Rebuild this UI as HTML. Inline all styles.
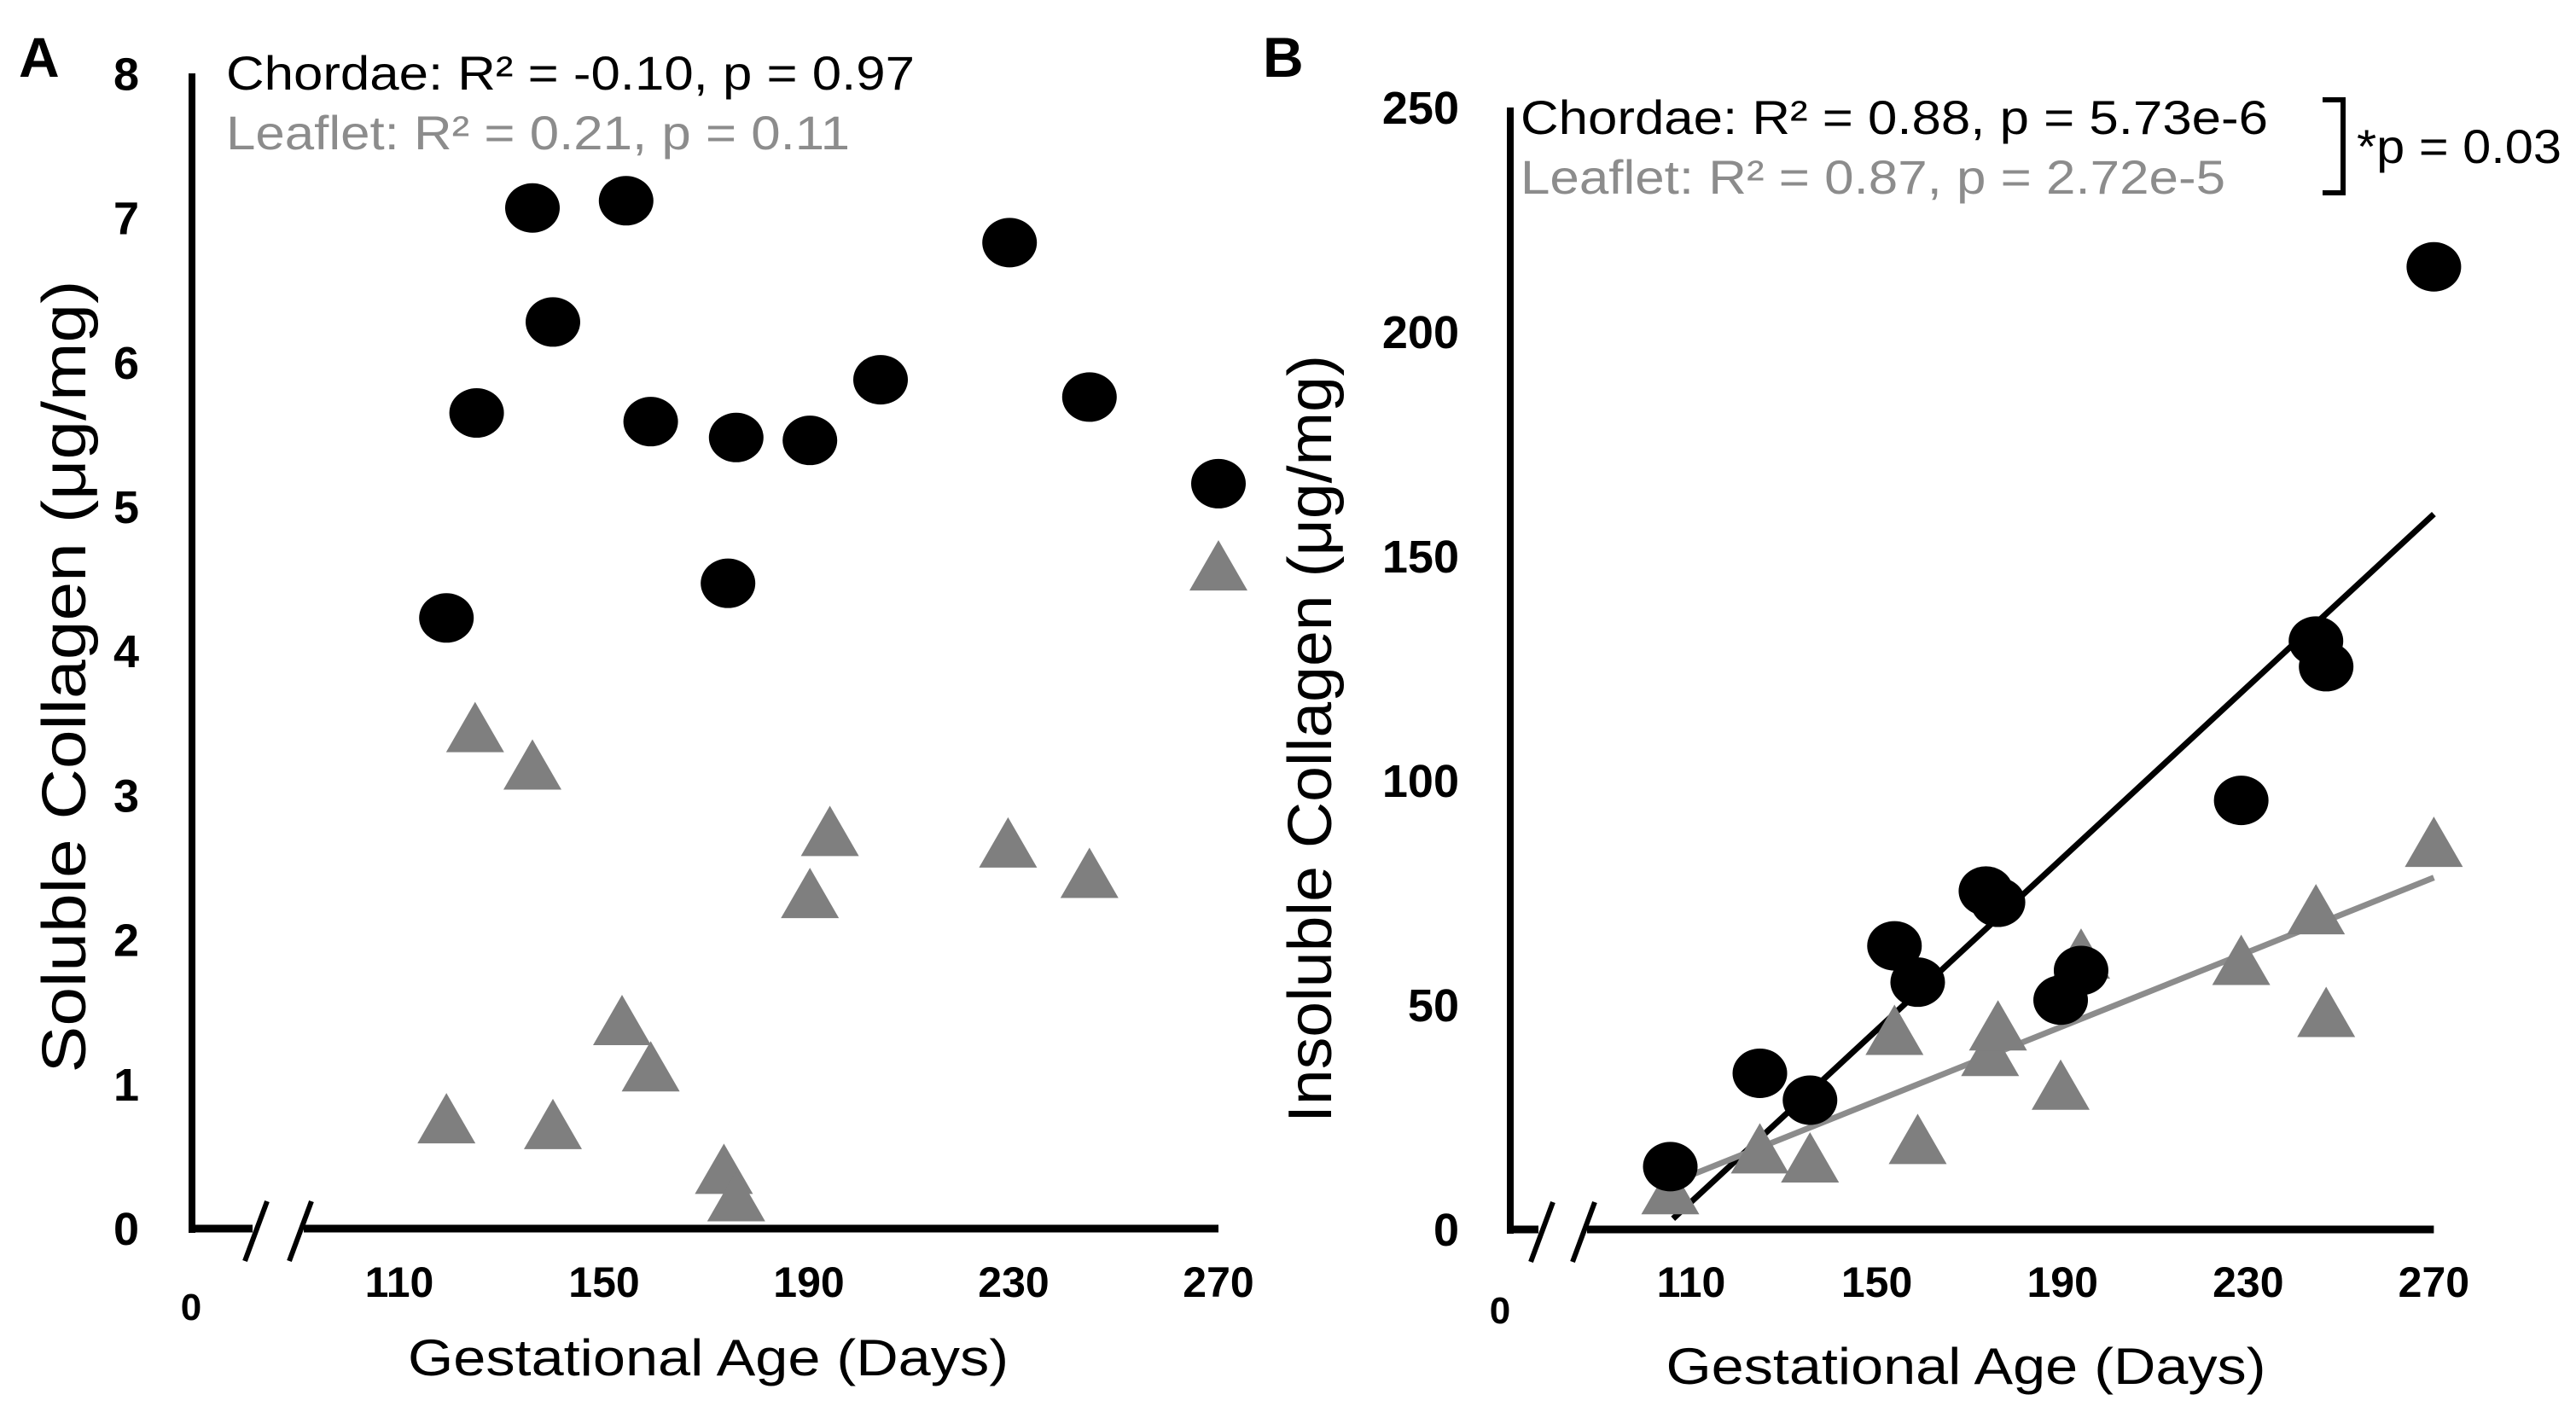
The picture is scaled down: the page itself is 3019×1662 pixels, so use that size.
<!DOCTYPE html>
<html><head><meta charset="utf-8"><style>
html,body{margin:0;padding:0;background:#fff}
svg{display:block}
text{font-family:"Liberation Sans",sans-serif}
</style></head><body>
<svg id="chart" width="3019" height="1662" viewBox="0 0 3019 1662" xmlns="http://www.w3.org/2000/svg">
<g id="panelA"></g>
<g id="panelB"></g>
</svg>
<script>
// Panel A data (soluble collagen)
const aChordaeDays = [119.2,125.1,136,140,154.3,159.1,175.8,174.2,190.2,204,229.2,244.8,270];
const aChordaeVals = [4.23,5.65,7.07,6.28,7.12,5.59,5.48,4.47,5.46,5.88,6.83,5.76,5.16];
const aLeafletDays = [119.2,124.8,136,140,153.5,159.1,173.4,175.8,190.2,194.1,228.9,244.8,270];
const aLeafletVals = [0.75,3.46,3.2,0.71,1.43,1.11,0.40,0.21,2.31,2.74,2.66,2.45,4.58];
const aYTicks = [0,1,2,3,4,5,6,7,8];
const xTicks = [110,150,190,230,270];
// Panel B data (insoluble collagen)
const bChordaeDays = [105.5,124.8,135.6,153.8,158.8,173.5,176.1,189.6,194,228.5,244.6,246.8,270];
const bChordaeVals = [14.0,34.8,28.8,63.2,55.1,75.4,72.9,51.1,57.7,95.6,131.1,125.4,214.5];
const bLeafletDays = [105.5,124.8,135.6,153.8,158.8,174.4,176.1,189.6,194,228.5,244.6,246.8,270];
const bLeafletVals = [8.5,17.6,15.6,44,19.7,39.3,45,31.8,61,59.6,70.9,48,85.9];
const bYTicks = [0,50,100,150,200,250];
const bChordaeFit = [[106.1,2.4],[270,159.4]];
const bLeafletFit = [[106.1,10.5],[270,78.4]];

const NS="http://www.w3.org/2000/svg";
function mk(parent,tag,attrs,txt){const e=document.createElementNS(NS,tag);for(const k in attrs)e.setAttribute(k,attrs[k]);if(txt!==undefined)e.textContent=txt;parent.appendChild(e);return e;}

function drawPanel(g,cfg){
  const sx=d=>cfg.x0+(d-110)*cfg.xs;
  const sy=v=>cfg.yZero-v*cfg.ys;
  let e=mk(g,'line',{x1:cfg.axX,y1:cfg.yTop,x2:cfg.axX,y2:cfg.yZero+5,stroke:'#000','stroke-width':8});
  
  e=mk(g,'line',{x1:cfg.axX-4,y1:cfg.yZero,x2:cfg.br1-4,y2:cfg.yZero,stroke:'#000','stroke-width':9});
  
  e=mk(g,'line',{x1:cfg.br2+4,y1:cfg.yZero,x2:sx(270),y2:cfg.yZero,stroke:'#000','stroke-width':9});
  
  [cfg.br1,cfg.br2].forEach(bx=>{
    e=mk(g,'line',{x1:bx-13,y1:cfg.yZero+38,x2:bx+13,y2:cfg.yZero-32,stroke:'#000','stroke-width':6});
    
  });
  cfg.yTicks.forEach(t=>{
    e=mk(g,'text',{x:cfg.yLabX,y:sy(t)+19,'text-anchor':'end','font-size':54,'font-weight':'bold'},String(t));
    
  });
  xTicks.forEach(t=>{
    e=mk(g,'text',{x:sx(t),y:cfg.xLabY,'text-anchor':'middle','font-size':50,'font-weight':'bold'},String(t));
    
  });
  e=mk(g,'text',{x:cfg.zeroX,y:cfg.zeroY,'text-anchor':'middle','font-size':44,'font-weight':'bold'},'0');
  
  if(cfg.fits){cfg.fits.forEach(f=>{
    e=mk(g,'line',{x1:sx(f.pts[0][0]),y1:sy(f.pts[0][1]),x2:sx(f.pts[1][0]),y2:sy(f.pts[1][1]),stroke:f.color,'stroke-width':7});
    
  });}
  cfg.lDays.forEach((d,i)=>{
    const cx=sx(d),cy=sy(cfg.lVals[i]);
    e=mk(g,'polygon',{points:`${cx-34},${cy+27} ${cx+34},${cy+27} ${cx},${cy-32}`,fill:'#7f7f7f'});
    
  });
  cfg.cDays.forEach((d,i)=>{
    e=mk(g,'ellipse',{cx:sx(d),cy:sy(cfg.cVals[i]),rx:32,ry:29,fill:'#000'});
    
  });
}

const gA=document.getElementById('panelA');
drawPanel(gA,{x0:468,xs:6.0,yZero:1440,ys:169.2,yTop:86,axX:225,br1:300,br2:352,yLabX:163,xLabY:1520,zeroX:224,zeroY:1547,
  yTicks:aYTicks,cDays:aChordaeDays,cVals:aChordaeVals,lDays:aLeafletDays,lVals:aLeafletVals});
const gB=document.getElementById('panelB');
drawPanel(gB,{x0:1982,xs:5.44,yZero:1441,ys:5.26,yTop:126,axX:1770,br1:1807,br2:1856,yLabX:1710,xLabY:1520,zeroX:1758,zeroY:1551,
  yTicks:bYTicks,cDays:bChordaeDays,cVals:bChordaeVals,lDays:bLeafletDays,lVals:bLeafletVals,
  fits:[{pts:bChordaeFit,color:'#000',name:'chordae-fit-line'},{pts:bLeafletFit,color:'#8c8c8c',name:'leaflet-fit-line'}]});
</script>
<svg style="position:absolute;left:0;top:0" width="3019" height="1662" viewBox="0 0 3019 1662" xmlns="http://www.w3.org/2000/svg">
<text x="22" y="90" font-size="66" font-weight="bold">A</text>
<text x="1480" y="90" font-size="66" font-weight="bold">B</text>
<text x="265" y="105" font-size="56" textLength="807" lengthAdjust="spacingAndGlyphs" fill="#000">Chordae: R² = -0.10, p = 0.97</text>
<text x="265" y="175" font-size="56" textLength="731" lengthAdjust="spacingAndGlyphs" fill="#8c8c8c">Leaflet: R² = 0.21, p = 0.11</text>
<text x="830" y="1612" font-size="60" text-anchor="middle" textLength="704" lengthAdjust="spacingAndGlyphs">Gestational Age (Days)</text>
<text transform="translate(100,793) rotate(-90)" font-size="72" text-anchor="middle" textLength="929" lengthAdjust="spacingAndGlyphs">Soluble Collagen (μg/mg)</text>
<text x="1782" y="157" font-size="56" textLength="876" lengthAdjust="spacingAndGlyphs" fill="#000">Chordae: R² = 0.88, p = 5.73e-6</text>
<text x="1782" y="227" font-size="56" textLength="826" lengthAdjust="spacingAndGlyphs" fill="#8c8c8c">Leaflet: R² = 0.87, p = 2.72e-5</text>
<path d="M2722,117 H2746 V226 H2722" fill="none" stroke="#000" stroke-width="6"/>
<text x="2762" y="191" font-size="56" textLength="240" lengthAdjust="spacingAndGlyphs">*p = 0.03</text>
<text x="2304" y="1622" font-size="60" text-anchor="middle" textLength="703" lengthAdjust="spacingAndGlyphs">Gestational Age (Days)</text>
<text transform="translate(1560,866) rotate(-90)" font-size="72" text-anchor="middle" textLength="900" lengthAdjust="spacingAndGlyphs">Insoluble Collagen (μg/mg)</text>
</svg>
</body></html>
